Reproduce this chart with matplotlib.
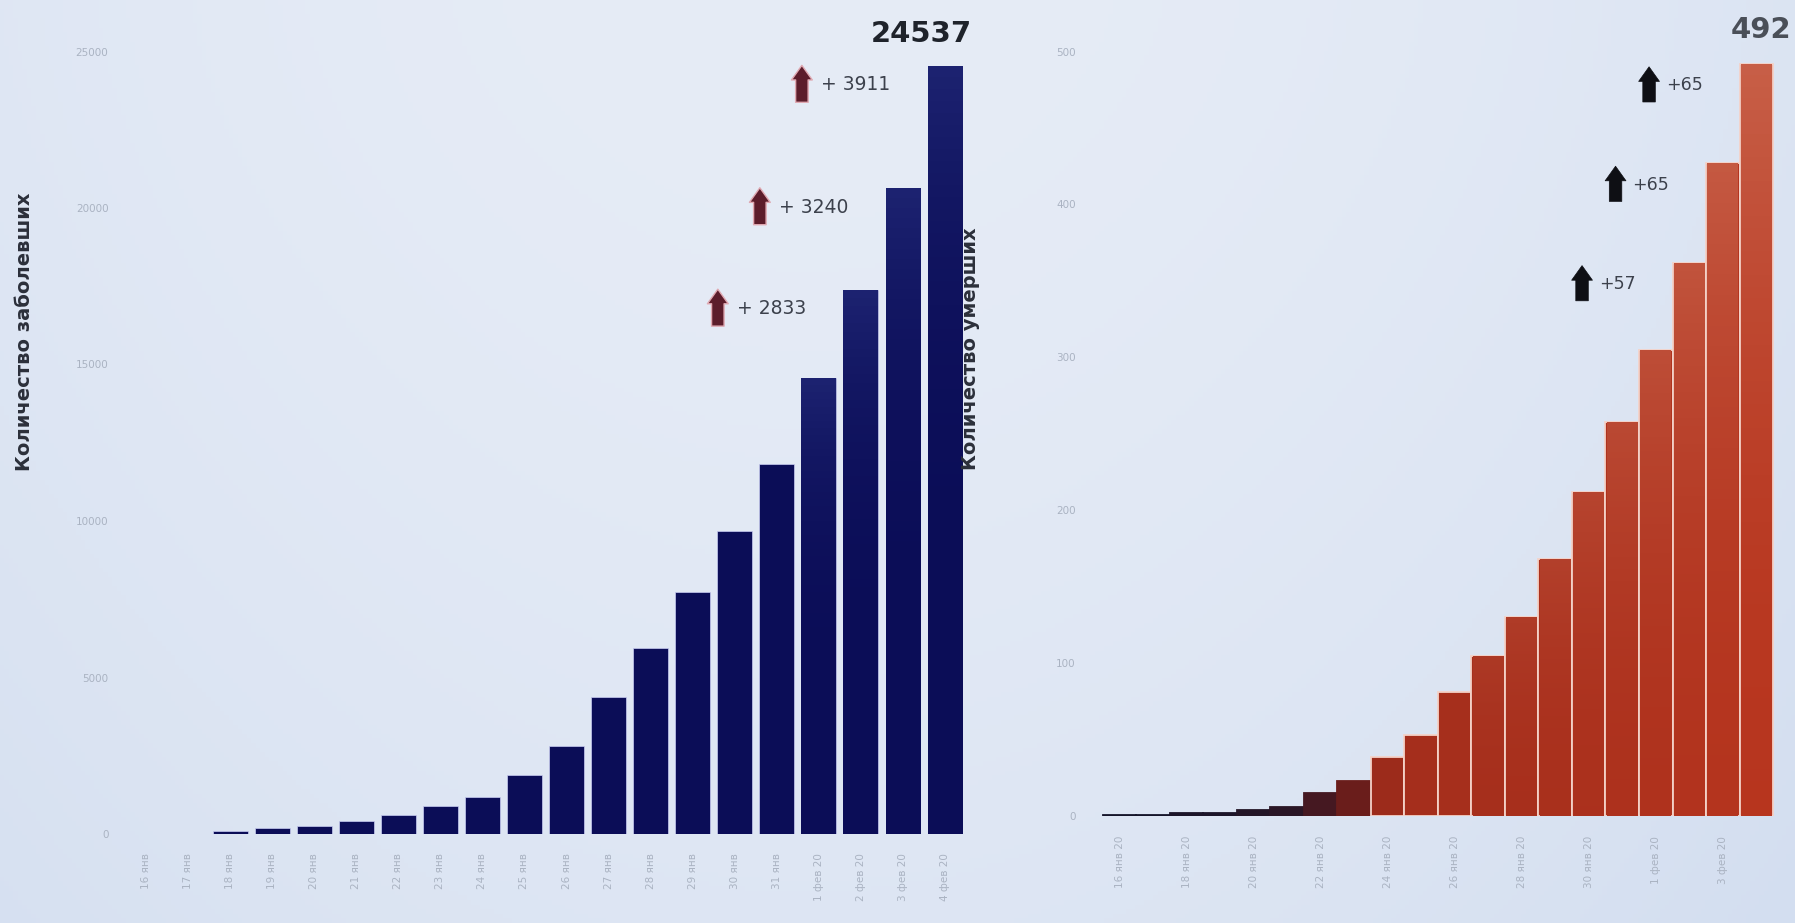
import numpy as np
import matplotlib
matplotlib.use("Agg")
import matplotlib.pyplot as plt
from matplotlib.colors import LinearSegmentedColormap, to_rgb

# --- data -------------------------------------------------------------
dates_cases = ["16 янв", "17 янв", "18 янв", "19 янв", "20 янв", "21 янв",
               "22 янв", "23 янв", "24 янв", "25 янв", "26 янв", "27 янв",
               "28 янв", "29 янв", "30 янв", "31 янв",
               "1 фев 20", "2 фев 20", "3 фев 20", "4 фев 20"]
cases = [0, 0, 110, 180, 270, 420, 620, 900, 1180, 1880, 2800, 4380,
         5950, 7720, 9670, 11820, 14553, 17386, 20626, 24537]

dates_deaths = ["16 янв 20", "17 янв 20", "18 янв 20", "19 янв 20",
                "20 янв 20", "21 янв 20", "22 янв 20", "23 янв 20",
                "24 янв 20", "25 янв 20", "26 янв 20", "27 янв 20",
                "28 янв 20", "29 янв 20", "30 янв 20", "31 янв 20",
                "1 фев 20", "2 фев 20", "3 фев 20", "4 фев 20"]
deaths = [1, 1, 2, 2, 4, 6, 15, 23, 39, 53, 81, 105, 130, 168, 212, 258,
          305, 362, 427, 492]

cases_ticks = [0, 5000, 10000, 15000, 20000, 25000]
deaths_ticks = [0, 100, 200, 300, 400, 500]

W, H = 1795, 923
fig = plt.figure(figsize=(W / 100, H / 100), dpi=100)

# soft screen-like backdrop
bg = fig.add_axes([0, 0, 1, 1], zorder=-10)
yy, xx = np.mgrid[0:1:200j, 0:1:400j]
c_light = np.array(to_rgb("#e6ecf6"))
c_blue = np.array(to_rgb("#d3def0"))
t = np.clip(0.55 * ((xx - 0.45) / 0.55) ** 2 + 0.45 * yy ** 1.5, 0, 1)
img = c_light[None, None, :] * (1 - t[..., None]) + c_blue[None, None, :] * t[..., None]
bg.imshow(img, extent=[0, 1, 0, 1], aspect="auto", origin="upper")
bg.set_axis_off()

tick_color = "#aab3c2"
label_color = "#2b2f3a"


def px_axes(left, right, top, bottom):
    return fig.add_axes([left / W, (H - bottom) / H, (right - left) / W, (bottom - top) / H])


def shade_bar(ax, bar, base, top, strength, power=2.0, inset=0.0):
    """Overlay a vertical colour gradient, clipped to the bar shape."""
    h = bar.get_height()
    if h <= 0 or strength <= 0:
        return
    base = np.array(to_rgb(base))
    top = np.array(to_rgb(top))
    g = (np.linspace(0, 1, 64) ** power * strength)[:, None]
    grad = np.clip(base[None, :] * (1 - g) + top[None, :] * g, 0, 1)[:, None, :]
    x0 = bar.get_x() + inset
    im = ax.imshow(grad, extent=[x0, bar.get_x() + bar.get_width() - inset, 0, h],
                   origin="lower", aspect="auto", zorder=bar.get_zorder() + 0.1)
    im.set_clip_path(bar)


# ---------------- cases ----------------
navy = "#0b0d57"
ax1 = px_axes(121, 970, 51.5, 834)
x1 = np.arange(len(cases))
bars1 = ax1.bar(x1, cases, width=0.82, color=navy, edgecolor="#c9cdf2",
                linewidth=0.5, zorder=2)
for i, b in enumerate(bars1):
    if i >= 16:
        shade_bar(ax1, b, navy, "#3c4aa0", 0.35, power=4.0)
ax1.set_xlim(-0.6, 19.6)
ax1.set_ylim(0, 25000)
ax1.set_xticks(x1)
ax1.set_xticklabels(dates_cases, rotation=90, fontsize=7.5, color=tick_color)
ax1.set_yticks(cases_ticks)
ax1.set_yticklabels([str(v) for v in cases_ticks], fontsize=7.5, color=tick_color)
ax1.tick_params(length=0, axis="y", pad=9)
ax1.tick_params(length=0, axis="x", pad=14)
for s in ax1.spines.values():
    s.set_visible(False)
ax1.patch.set_alpha(0)

# daily increments shown with arrows
last = len(cases) - 1
for k in range(3):
    i = last - k
    inc = cases[i] - cases[i - 1]
    y = cases[i] - 600
    ax1.annotate("", xy=(i - 3.4, y + 620), xytext=(i - 3.4, y - 560),
                 arrowprops=dict(arrowstyle="simple,head_length=0.7,head_width=1.0,tail_width=0.6",
                                 fc="#5c1d2b", ec="#e0a9b2", lw=1.0,
                                 shrinkA=0, shrinkB=0, mutation_scale=15),
                 zorder=5)
    ax1.text(i - 2.95, y, f"+ {inc}", fontsize=13.5, color="#3c414c",
             ha="left", va="center", zorder=5)
ax1.text(last - 0.55, 1.005, f"{cases[-1]}", transform=ax1.get_xaxis_transform(),
         fontsize=21, fontweight="bold", color="#1f232b", ha="center", va="bottom")

fig.text(25 / W, 1 - 332 / H, "Количество заболевших", rotation=90, fontsize=14,
         fontweight="bold", color=label_color, ha="center", va="center")

# ---------------- deaths ----------------
ax2 = px_axes(1099.5, 1776.4, 51.5, 816.2)
x2 = np.arange(len(deaths))
cmap = LinearSegmentedColormap.from_list(
    "deaths", [(0.0, "#15152a"), (0.03, "#4a1820"), (0.05, "#7a2018"),
               (0.08, "#a42e1c"), (1.0, "#b8361f")])
colors2 = [cmap(v / 500) for v in deaths]
edges2 = ["#f4d2c8" if v > 30 else cmap(v / 500) for v in deaths]
bars2 = ax2.bar(x2, deaths, width=1.0, color=colors2, edgecolor=edges2,
                linewidth=1.3, zorder=2)
for i, b in enumerate(bars2):
    if deaths[i] > 100:
        shade_bar(ax2, b, colors2[i][:3], "#cc6a52",
                  min(1.0, deaths[i] / 500) * 0.8, power=2.0, inset=0.04)
ax2.set_xlim(-0.6, 19.6)
ax2.set_ylim(0, 500)
ax2.set_xticks(x2[::2])
ax2.set_xticklabels(dates_deaths[::2], rotation=90, fontsize=7.5, color=tick_color)
ax2.set_yticks(deaths_ticks)
ax2.set_yticklabels([str(v) for v in deaths_ticks], fontsize=7.5, color=tick_color)
ax2.tick_params(length=0, axis="y", pad=17)
ax2.tick_params(length=0, axis="x", pad=14)
for s in ax2.spines.values():
    s.set_visible(False)
ax2.patch.set_alpha(0)

last = len(deaths) - 1
for k in range(3):
    i = last - k
    inc = deaths[i] - deaths[i - 1]
    y = deaths[i] - 14
    ax2.annotate("", xy=(i - 3.2, y + 12), xytext=(i - 3.2, y - 11),
                 arrowprops=dict(arrowstyle="simple,head_length=0.7,head_width=1.0,tail_width=0.6",
                                 fc="#0e0f14", ec="#0e0f14", lw=0.5,
                                 shrinkA=0, shrinkB=0, mutation_scale=15),
                 zorder=5)
    ax2.text(i - 2.7, y, f"+{inc}", fontsize=12.5, color="#3c414c",
             ha="left", va="center", zorder=5)
ax2.text(last + 0.15, 1.01, f"{deaths[-1]}", transform=ax2.get_xaxis_transform(),
         fontsize=21, fontweight="bold", color="#4a4f58", ha="center", va="bottom",
         clip_on=False)

fig.text(971 / W, 1 - 349 / H, "Количество умерших", rotation=90, fontsize=14,
         fontweight="bold", color=label_color, ha="center", va="center")

fig.savefig("out.png", dpi=100)
